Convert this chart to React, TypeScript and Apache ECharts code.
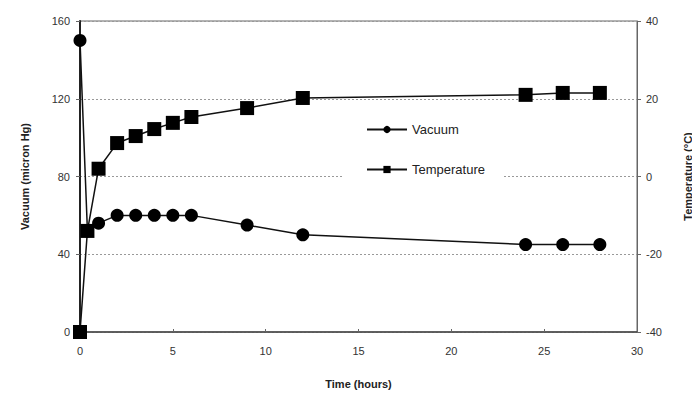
import React, { useEffect, useRef } from "react";
import * as echarts from "echarts";

const timeHours = [0, 0.4, 1, 2, 3, 4, 5, 6, 9, 12, 24, 26, 28];
const vacuum = [150, 52, 56, 60, 60, 60, 60, 60, 55, 50, 45, 45, 45];
const temperature = [-40, -14, 2, 8.6, 10.4, 12.2, 13.8, 15.3, 17.6, 20.2, 21, 21.5, 21.5];

const xTicks = { min: 0, max: 30, interval: 5 };
const leftTicks = { min: 0, max: 160, interval: 40 };
const rightTicks = { min: -40, max: 40, interval: 20 };

const FONT = "Liberation Sans, Arial, sans-serif";

export default function App() {
  const ref = useRef<HTMLDivElement>(null);
  useEffect(() => {
    if (!ref.current) return;
    const chart = echarts.init(ref.current, null, { renderer: "svg" });
    const vacData = timeHours.map((t, i) => [t, vacuum[i]]);
    const tempData = timeHours.map((t, i) => [t, temperature[i]]);
    chart.setOption({
      animation: false,
      backgroundColor: "#fff",
      textStyle: { fontFamily: FONT },
      grid: {
        left: 80,
        right: 55,
        top: 21,
        bottom: 62,
        show: true,
        borderColor: "#666",
        borderWidth: 1,
        outerBoundsMode: "none",
        containLabel: false,
      },
      legend: {
        orient: "vertical",
        left: 342,
        top: 115,
        padding: [8, 18, 10, 24],
        backgroundColor: "#fff",
        itemWidth: 40,
        itemHeight: 9,
        itemGap: 27,
        textStyle: { fontFamily: FONT, fontSize: 13, color: "#222" },
        data: ["Vacuum", "Temperature"],
      },
      xAxis: {
        type: "value",
        ...xTicks,
        name: "Time (hours)",
        nameLocation: "middle",
        nameGap: 46,
        nameTextStyle: { fontFamily: FONT, fontWeight: "bold", fontSize: 11, color: "#222" },
        axisLine: { show: true, onZero: false, lineStyle: { color: "#444", width: 1.5 } },
        axisTick: { show: true, inside: true, length: 3, lineStyle: { color: "#666" } },
        axisLabel: { fontFamily: FONT, fontSize: 11, color: "#333", margin: 13 },
        splitLine: { show: false },
      },
      yAxis: [
        {
          type: "value",
          ...leftTicks,
          position: "left",
          name: "Vacuum (micron Hg)",
          nameLocation: "middle",
          nameGap: 50,
          nameTextStyle: { fontFamily: FONT, fontWeight: "bold", fontSize: 11, color: "#222" },
          axisLine: { show: true, onZero: false, lineStyle: { color: "#222", width: 2 } },
          axisTick: { show: true, inside: false, length: 4, lineStyle: { color: "#666" } },
          axisLabel: { fontFamily: FONT, fontSize: 11, color: "#333", margin: 10 },
          splitLine: { show: true, lineStyle: { color: "#999", type: [2, 2], width: 1 } },
        },
        {
          type: "value",
          ...rightTicks,
          position: "right",
          name: "Temperature (°C)",
          nameLocation: "middle",
          nameGap: 45,
          nameTextStyle: { fontFamily: FONT, fontWeight: "bold", fontSize: 11, color: "#222" },
          axisLine: { show: true, onZero: false, lineStyle: { color: "#666", width: 1 } },
          axisTick: { show: true, inside: false, length: 4, lineStyle: { color: "#666" } },
          axisLabel: { fontFamily: FONT, fontSize: 11, color: "#333", margin: 9 },
          splitLine: { show: false },
        },
      ],
      series: [
        {
          name: "Vacuum",
          type: "line",
          yAxisIndex: 0,
          data: vacData,
          symbol: "circle",
          symbolSize: 13,
          clip: false,
          itemStyle: { color: "#000" },
          lineStyle: { color: "#111", width: 1.5 },
        },
        {
          name: "Temperature",
          type: "line",
          yAxisIndex: 1,
          data: tempData,
          symbol: "rect",
          symbolSize: 14,
          clip: false,
          itemStyle: { color: "#000" },
          lineStyle: { color: "#111", width: 1.5 },
        },
      ],
    });
    return () => chart.dispose();
  }, []);
  return <div ref={ref} style={{ width: 692, height: 394, position: "absolute", left: 0, top: 0 }} />;
}
